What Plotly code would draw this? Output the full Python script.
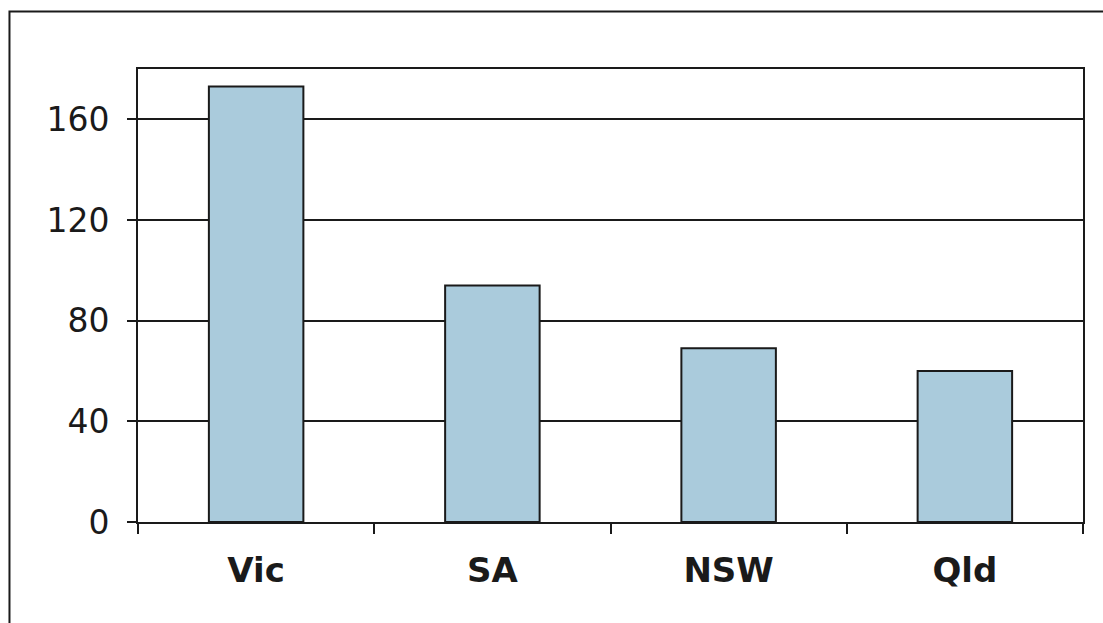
import plotly.graph_objects as go

# Values per state
states = ["Vic", "SA", "NSW", "Qld"]
counts = [173, 94, 69, 60]

# Axis ticks
y_ticks = [0, 40, 80, 120, 160]

BAR_FILL = "#aacbdc"
INK = "#1a1a1a"

fig = go.Figure(
    go.Bar(
        x=states,
        y=counts,
        marker=dict(color=BAR_FILL, line=dict(color=INK, width=2)),
        width=0.4,
        hoverinfo="x+y",
    )
)

fig.update_layout(
    width=1103,
    height=623,
    margin=dict(l=138, r=20, t=69, b=101),
    paper_bgcolor="white",
    plot_bgcolor="white",
    showlegend=False,
    font=dict(family="DejaVu Sans, Verdana, sans-serif", color=INK),
)

fig.update_yaxes(
    range=[0, 180],
    tickvals=y_ticks,
    ticktext=[str(v) for v in y_ticks],
    showgrid=True,
    gridcolor=INK,
    gridwidth=2,
    zeroline=False,
    showline=True,
    linecolor=INK,
    linewidth=2,
    mirror=True,
    ticks="outside",
    ticklen=9,
    tickwidth=2,
    tickcolor=INK,
    ticklabelstandoff=11,
    tickfont=dict(size=33, color=INK),
)

fig.update_xaxes(
    showgrid=False,
    showline=True,
    linecolor=INK,
    linewidth=2,
    mirror=True,
    ticks="outside",
    tickson="boundaries",
    ticklen=10,
    tickwidth=2,
    tickcolor=INK,
    ticklabelstandoff=17,
    tickfont=dict(size=34, color=INK, weight="bold"),
)

# Outer chart frame (its right and bottom edges fall outside the page)
fig.add_shape(
    type="rect",
    xref="paper", yref="paper",
    x0=-0.136, x1=1.12, y0=-0.3, y1=1.127,
    line=dict(color=INK, width=2),
    fillcolor="rgba(0,0,0,0)",
    layer="above",
)

fig.write_html("out.html")
